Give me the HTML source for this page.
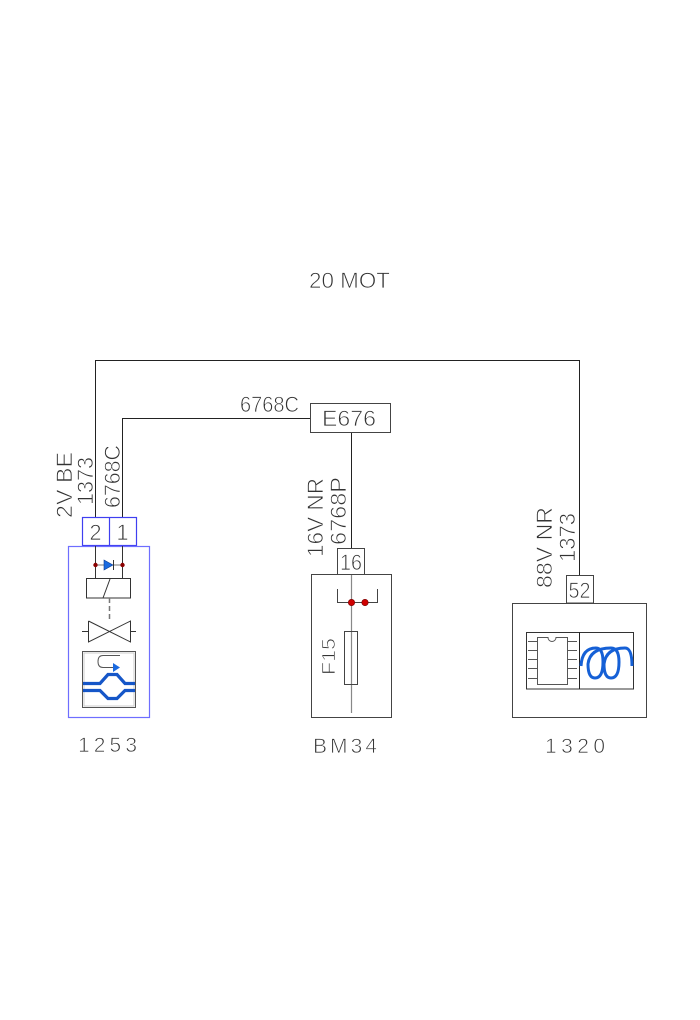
<!DOCTYPE html>
<html>
<head>
<meta charset="utf-8">
<style>
html,body{margin:0;padding:0;background:#fff;}
svg{display:block;}
text{font-family:"Liberation Sans",sans-serif;fill:#333;stroke:#fff;stroke-width:0.7;paint-order:normal;}
</style>
</head>
<body>
<svg width="700" height="1020" viewBox="0 0 700 1020" xmlns="http://www.w3.org/2000/svg">
<rect width="700" height="1020" fill="#fff"/>

<!-- Title -->
<text x="309" y="288" font-size="22" textLength="81" lengthAdjust="spacingAndGlyphs">20 MOT</text>

<!-- Wires -->
<g stroke="#222" stroke-width="1" fill="none">
  <polyline points="95.5,517 95.5,360.5 579.5,360.5 579.5,575"/>
  <polyline points="122.5,517 122.5,418.5 310.5,418.5"/>
  <line x1="351.5" y1="432" x2="351.5" y2="548"/>
</g>

<!-- E676 box -->
<rect x="310.5" y="403.5" width="80" height="29" fill="none" stroke="#444" stroke-width="1"/>
<text x="240" y="412" font-size="22" textLength="59" lengthAdjust="spacingAndGlyphs">6768C</text>
<text x="322" y="426" font-size="22" textLength="54" lengthAdjust="spacingAndGlyphs">E676</text>

<!-- Rotated wire labels -->
<text transform="translate(72,518) rotate(-90)" font-size="22" textLength="66" lengthAdjust="spacingAndGlyphs">2V BE</text>
<text transform="translate(93,505) rotate(-90)" font-size="22" textLength="48" lengthAdjust="spacingAndGlyphs">1373</text>
<text transform="translate(120,508) rotate(-90)" font-size="22" textLength="63" lengthAdjust="spacingAndGlyphs">6768C</text>
<text transform="translate(323,557) rotate(-90)" font-size="22" textLength="79" lengthAdjust="spacingAndGlyphs">16V NR</text>
<text transform="translate(346,545) rotate(-90)" font-size="22" textLength="68" lengthAdjust="spacingAndGlyphs">6768P</text>
<text transform="translate(552,588) rotate(-90)" font-size="22" textLength="81" lengthAdjust="spacingAndGlyphs">88V NR</text>
<text transform="translate(575,562) rotate(-90)" font-size="22" textLength="49" lengthAdjust="spacingAndGlyphs">1373</text>

<!-- ===== Component 1253 ===== -->
<rect x="82.5" y="517.5" width="54" height="28" fill="none" stroke="#3f3ff0" stroke-width="1.2"/>
<line x1="109.5" y1="517.5" x2="109.5" y2="545.5" stroke="#3f3ff0" stroke-width="1.2"/>
<text x="95.5" y="540" font-size="22" text-anchor="middle">2</text>
<text x="122.5" y="540" font-size="22" text-anchor="middle">1</text>
<rect x="68.5" y="546.5" width="81" height="171" fill="none" stroke="#6e6eff" stroke-width="1.2"/>

<g stroke="#333" stroke-width="1" fill="none">
  <line x1="95.5" y1="546" x2="95.5" y2="579"/>
  <line x1="122.5" y1="546" x2="122.5" y2="579"/>
  <line x1="95.5" y1="565" x2="122.5" y2="565" stroke="#777"/>
  <rect x="86.5" y="578.5" width="44" height="19.5"/>
  <line x1="110" y1="579" x2="103" y2="598"/>
  <line x1="109.5" y1="598" x2="109.5" y2="621" stroke="#777" stroke-width="1.5" stroke-dasharray="5,3"/>
  <polyline points="88.5,621 130.5,642 130.5,621 88.5,642 88.5,621"/>
  <line x1="82" y1="631.5" x2="88" y2="631.5"/>
  <line x1="130" y1="631.5" x2="136" y2="631.5"/>
</g>
<polygon points="104,560 113,565 104,570" fill="#1a6ae0" stroke="#0a3a90" stroke-width="0.6"/>
<line x1="113.5" y1="560" x2="113.5" y2="570" stroke="#333" stroke-width="1"/>
<circle cx="95.5" cy="565" r="2.2" fill="#8b0000"/>
<circle cx="122.5" cy="565" r="2.2" fill="#8b0000"/>

<!-- hydraulic symbol -->
<rect x="82.5" y="651.5" width="53" height="56" fill="none" stroke="#555" stroke-width="1"/>
<rect x="84" y="653" width="50" height="53" fill="none" stroke="#ccc" stroke-width="1"/>
<path d="M120,655.5 L103,655.5 Q98,655.5 98,661.5 Q98,667.5 103,667.5 L114,667.5" fill="none" stroke="#555" stroke-width="1"/>
<polygon points="113,663 120,667.5 113,672" fill="#1a6ae0"/>
<path d="M83,683.5 L100,683.5 L108,674.5 L117,674.5 L125,683.5 L135,683.5" fill="none" stroke="#1556c8" stroke-width="3.2"/>
<path d="M83,690.5 L100,690.5 L108,698.5 L117,698.5 L125,690.5 L135,690.5" fill="none" stroke="#1556c8" stroke-width="3.2"/>

<text x="78" y="752" font-size="21" textLength="59" lengthAdjust="spacing">1253</text>

<!-- ===== Component BM34 ===== -->
<rect x="337.5" y="548.5" width="27" height="26" fill="none" stroke="#444" stroke-width="1"/>
<text x="351" y="570" font-size="22" text-anchor="middle" textLength="22" lengthAdjust="spacingAndGlyphs">16</text>
<rect x="311.5" y="574.5" width="80" height="143" fill="none" stroke="#444" stroke-width="1"/>
<line x1="351.5" y1="575" x2="351.5" y2="713" stroke="#888" stroke-width="1.2"/>
<polyline points="337.5,589 337.5,602.5 377.5,602.5 377.5,589" fill="none" stroke="#444" stroke-width="1"/>
<circle cx="351.5" cy="602.5" r="3.2" fill="#d00000" stroke="#700" stroke-width="0.6"/>
<circle cx="365" cy="602.5" r="3.2" fill="#d00000" stroke="#700" stroke-width="0.6"/>
<rect x="344.5" y="631.5" width="13" height="53" fill="#fff" stroke="#444" stroke-width="1"/>
<line x1="351.5" y1="632" x2="351.5" y2="684" stroke="#888" stroke-width="1.2"/>
<text transform="translate(335,675) rotate(-90)" font-size="18" textLength="37" lengthAdjust="spacingAndGlyphs">F15</text>
<text x="313" y="753" font-size="21" textLength="64" lengthAdjust="spacing">BM34</text>

<!-- ===== Component 1320 ===== -->
<rect x="566.5" y="575.5" width="27" height="27.5" fill="none" stroke="#444" stroke-width="1"/>
<text x="579.5" y="598" font-size="22" text-anchor="middle" textLength="22" lengthAdjust="spacingAndGlyphs">52</text>
<rect x="512.5" y="603.5" width="134" height="114" fill="none" stroke="#444" stroke-width="1"/>
<rect x="526.5" y="632.5" width="107" height="56.5" fill="none" stroke="#333" stroke-width="1"/>
<line x1="579.5" y1="632" x2="579.5" y2="689" stroke="#222" stroke-width="1"/>
<g stroke="#555" stroke-width="1" fill="none">
  <path d="M537.5,637.5 L548,637.5 A4,4 0 0 0 556,637.5 L567.5,637.5 L567.5,684.5 L537.5,684.5 Z" fill="#fff"/>
  <line x1="528" y1="641.5" x2="537" y2="641.5"/>
  <line x1="528" y1="650.5" x2="537" y2="650.5"/>
  <line x1="528" y1="659.5" x2="537" y2="659.5"/>
  <line x1="528" y1="668.5" x2="537" y2="668.5"/>
  <line x1="528" y1="678.5" x2="537" y2="678.5"/>
  <line x1="568" y1="641.5" x2="577" y2="641.5"/>
  <line x1="568" y1="650.5" x2="577" y2="650.5"/>
  <line x1="568" y1="659.5" x2="577" y2="659.5"/>
  <line x1="568" y1="668.5" x2="577" y2="668.5"/>
  <line x1="568" y1="678.5" x2="577" y2="678.5"/>
</g>
<path d="M581,666 Q582,648 596,648 Q603,648 603,662 Q603,678 595,678 Q588,678 588,664 Q590,648 611,648 Q619,648 619,662 Q619,678 611,678 Q604,678 604,664 Q606,648 625,648 Q632,648 632,666" fill="none" stroke="#1560d6" stroke-width="3"/>
<text x="545" y="753" font-size="21" textLength="60" lengthAdjust="spacing">1320</text>

</svg>
</body>
</html>
